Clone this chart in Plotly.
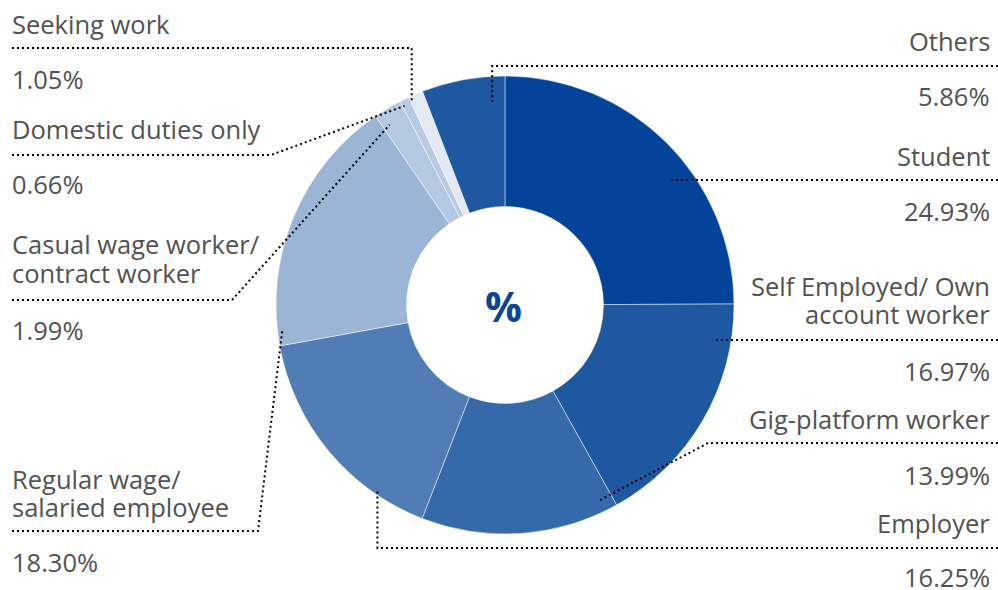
import math
import plotly.graph_objects as go

# ---------------- data ----------------
categories = [
    "Student",
    "Self Employed/ Own account worker",
    "Gig-platform worker",
    "Employer",
    "Regular wage/ salaried employee",
    "Casual wage worker/ contract worker",
    "Domestic duties only",
    "Seeking work",
    "Others",
]
values = [24.93, 16.97, 13.99, 16.25, 18.30, 1.99, 0.66, 1.05, 5.86]
name_lines = [
    ["Student"],
    ["Self Employed/ Own", "account worker"],
    ["Gig-platform worker"],
    ["Employer"],
    ["Regular wage/", "salaried employee"],
    ["Casual wage worker/", "contract worker"],
    ["Domestic duties only"],
    ["Seeking work"],
    ["Others"],
]
colors = ["#03449a", "#1d58a0", "#3669aa", "#507db5", "#9bb5d5",
          "#b5c8e1", "#b9cbe3", "#e3eaf3", "#1d58a0"]

# ---------------- layout helpers ----------------
W, H = 998, 590
CX, CY, R = 505, 305, 229
HOLE = 0.43

# label layout: side, y of name lines, y of dotted line, y of percent,
# elbow x (None -> anchor x), fraction inside slice and radius for anchor
label_layout = [
    dict(side="right", ny=[155], ly=180, py=212, ex=None, frac=0.59, r=209),
    dict(side="right", ny=[285, 313], ly=340, py=372, ex=None, frac=0.16, r=212),
    dict(side="right", ny=[418], ly=443, py=476, ex=708, frac=0.064, r=217),
    dict(side="right", ny=[522], ly=548, py=578, ex=None, frac=0.225, r=226),
    dict(side="left", ny=[478, 506], ly=531, py=563, ex=258, frac=0.06, r=224),
    dict(side="left", ny=[243, 272], ly=300, py=331, ex=232, frac=0.25, r=214),
    dict(side="left", ny=[128], ly=155, py=185, ex=271, frac=0.2, r=223),
    dict(side="left", ny=[23], ly=48, py=80, ex=None, frac=0.1, r=225),
    dict(side="right", ny=[40], ly=66, py=97, ex=None, frac=0.83, r=204),
]

LEFT_X, RIGHT_X = 11, 991
LINE_LEFT, LINE_RIGHT = 12, 998
FONT = "Open Sans"
FSIZE = 25.5
TXT = "#525252"
BOXH = 29


def px(x):
    return x / W


def py(y):
    return 1 - y / H


fig = go.Figure()
fig.add_trace(go.Pie(
    labels=categories,
    values=values,
    sort=False,
    direction="clockwise",
    rotation=0,
    hole=HOLE,
    textinfo="none",
    hoverinfo="label+percent",
    marker=dict(colors=colors, line=dict(color="rgba(255,255,255,0.6)", width=0.8)),
    domain=dict(x=[px(CX - R), px(CX + R)], y=[py(CY + R), py(CY - R)]),
    showlegend=False,
))

annotations = []
shapes = []
total = sum(values)
cum = 0.0
for cat, val, lines, lay in zip(categories, values, name_lines, label_layout):
    start = cum / total * 360
    ang = math.radians(start + lay["frac"] * val / total * 360)
    cum += val
    ax = CX + lay["r"] * math.sin(ang)
    ay = CY - lay["r"] * math.cos(ang)
    left = lay["side"] == "left"
    tx = LEFT_X if left else RIGHT_X
    anchor = "left" if left else "right"
    for line, yy in zip(lines, lay["ny"]):
        annotations.append(dict(text=line, x=px(tx), y=py(yy + 3.2), xref="paper", yref="paper",
                                xanchor=anchor, yanchor="middle", showarrow=False,
                                height=BOXH, valign="bottom", borderpad=0, align=anchor,
                                font=dict(family=FONT, size=FSIZE, color=TXT)))
    annotations.append(dict(text=f"{val:.2f}%", x=px(tx), y=py(lay["py"] - 3.2), xref="paper",
                            yref="paper", xanchor=anchor, yanchor="middle", showarrow=False,
                            height=BOXH, valign="top", borderpad=0, align=anchor,
                            font=dict(family=FONT, size=FSIZE, color=TXT)))
    ex = lay["ex"] if lay["ex"] is not None else ax
    edge = LINE_LEFT if left else LINE_RIGHT
    path = (f"M{px(edge)},{py(lay['ly'])} L{px(ex)},{py(lay['ly'])} "
            f"L{px(ax)},{py(ay)}")
    shapes.append(dict(type="path", path=path, xref="paper", yref="paper", layer="above",
                       line=dict(color="#000000", width=2, dash="2px,3px")))

annotations.append(dict(text="<b>%</b>", x=px(CX - 1), y=py(CY + 1), xref="paper", yref="paper",
                        xanchor="center", yanchor="middle", showarrow=False,
                        font=dict(family=FONT, size=41, color="#0a4595")))

fig.update_layout(
    width=W, height=H,
    margin=dict(l=0, r=0, t=0, b=0),
    paper_bgcolor="white", plot_bgcolor="white",
    annotations=annotations, shapes=shapes,
)

fig.write_html("out.html")
